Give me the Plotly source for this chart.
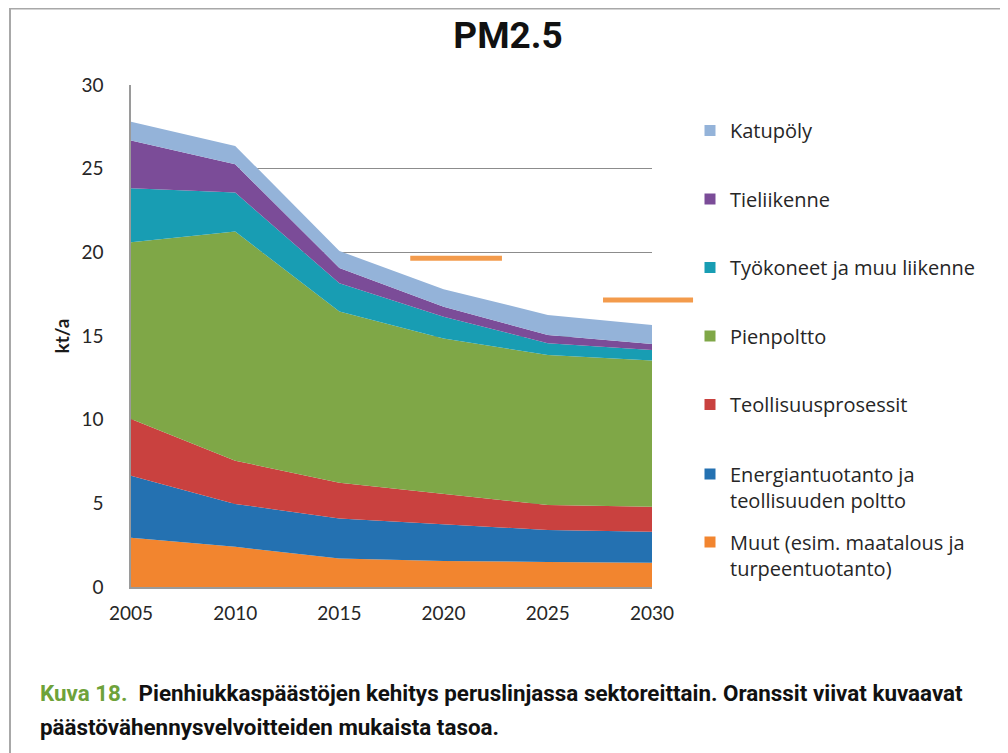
import plotly.graph_objects as go

years = [2005, 2010, 2015, 2020, 2025, 2030]

# layer thicknesses (kt/a), bottom to top
muut = [2.95, 2.4, 1.7, 1.55, 1.5, 1.45]
energia = [3.7, 2.56, 2.4, 2.22, 1.9, 1.85]
teollisuus = [3.39, 2.59, 2.13, 1.78, 1.5, 1.5]
pienpoltto = [10.56, 13.69, 10.23, 9.3, 8.97, 8.73]
tyokoneet = [3.23, 2.33, 1.69, 1.3, 0.7, 0.64]
tieliikenne = [2.85, 1.69, 0.92, 0.6, 0.49, 0.35]
katupoly = [1.12, 1.1, 1.01, 1.05, 1.2, 1.14]

# reduction-commitment levels (orange lines)
target1_x = [2018.4, 2022.8]
target1_y = [19.65, 19.65]
target2_x = [2027.65, 2031.97]
target2_y = [17.15, 17.15]

names = ["Muut (esim. maatalous ja<br>turpeentuotanto)",
         "Energiantuotanto ja<br>teollisuuden poltto",
         "Teollisuusprosessit", "Pienpoltto", "Työkoneet ja muu liikenne",
         "Tieliikenne", "Katupöly"]
values = [muut, energia, teollisuus, pienpoltto, tyokoneet, tieliikenne, katupoly]
colors = ["#F2852F", "#2471B1", "#C9413F", "#7FA747", "#189DB3", "#7B4C98", "#94B3D9"]
legends = ["legend2", "legend2", "legend", "legend", "legend", "legend", "legend"]

fig = go.Figure()
for name, vals, col in zip(names, values, colors):
    fig.add_trace(go.Scatter(
        x=years, y=vals, name=name, stackgroup="one", mode="lines",
        line=dict(width=0, color=col), fillcolor=col, showlegend=False,
        hoverinfo="skip"))

# legend entries (square swatches), top-to-bottom order
for i in reversed(range(len(names))):
    fig.add_trace(go.Scatter(
        x=[None], y=[None], name=names[i], mode="markers",
        marker=dict(symbol="square", size=11, color=colors[i]),
        legend=legends[i], legendgroup="g%d" % (10 - i), showlegend=True))

for tx, ty in [(target1_x, target1_y), (target2_x, target2_y)]:
    fig.add_trace(go.Scatter(
        x=tx, y=ty, mode="lines", line=dict(color="#F39B4C", width=5),
        xaxis="x2", yaxis="y2", showlegend=False, hoverinfo="skip"))

OFF = 8  # page body margin
FW, FH = 1008 - OFF, 753 - OFF
L, R, T, B = 131, 715, 85, 587   # plot area in screen pixels
W = R - L
H = B - T
def px(x):
    return (x - L) / W
def py(y):
    return (B - y) / H

tick_font = dict(family="Lato, sans-serif", size=19, color="#262626")
leg_font = dict(family="Open Sans, sans-serif", size=20, color="#262626")
cond = "Roboto, Lato, sans-serif"

fig.update_layout(
    width=FW, height=FH,
    margin=dict(l=L - OFF, r=FW - (R - OFF), t=T - OFF, b=FH - (B - OFF)),
    paper_bgcolor="white", plot_bgcolor="rgba(0,0,0,0)",
    title=dict(text="PM2.5", x=(508 - OFF) / FW, xref="container",
               xanchor="center", y=1 - (35 - OFF) / FH, yanchor="middle",
               font=dict(family=cond, size=37, color="#111111", weight="bold")),
    xaxis=dict(domain=[0, (652 - L) / W], range=[2005, 2030], tickvals=years,
               showgrid=False, zeroline=False, showline=True, linecolor="#9A9A9A",
               linewidth=1.5, ticks="", tickfont=tick_font, ticklabelstandoff=8),
    yaxis=dict(domain=[0, 1], range=[0, 30], dtick=5, showgrid=True,
               gridcolor="#8C8C8C", gridwidth=1, zeroline=False, showline=True,
               linecolor="#9A9A9A", linewidth=1.5, ticks="", tickfont=tick_font,
               ticklabelstandoff=22,
               title=dict(text="<b>kt/a</b>", standoff=7,
                          font=dict(family="Lato, sans-serif", size=19, color="#1a1a1a"))),
    xaxis2=dict(domain=[0, 1], range=[2005, 2005 + 25 * W / (652 - L)], anchor="y2",
                visible=False),
    yaxis2=dict(domain=[0, 1], range=[0, 30], anchor="x2", visible=False),
    legend=dict(x=px(690), y=py(111), xanchor="left", yanchor="top",
                tracegroupgap=39.5, font=leg_font, traceorder="grouped",
                bgcolor="rgba(0,0,0,0)", valign="top"),
    legend2=dict(x=px(690), y=py(454.5), xanchor="left", yanchor="top",
                 tracegroupgap=13, font=leg_font, traceorder="grouped",
                 bgcolor="rgba(0,0,0,0)", valign="top"),
    showlegend=True,
)

# frame around the figure
fig.add_shape(type="line", xref="paper", yref="paper", x0=px(10), x1=px(1010),
              y0=py(8.5), y1=py(8.5), line=dict(color="#A8A8A8", width=2))
fig.add_shape(type="line", xref="paper", yref="paper", x0=px(10), x1=px(10),
              y0=py(8), y1=py(760), line=dict(color="#A8A8A8", width=2))

# caption
cap_font = dict(family=cond, size=22.4, color="#111111", weight="bold")
fig.add_annotation(xref="paper", yref="paper", x=px(38), y=py(693), xanchor="left",
                   yanchor="middle", showarrow=False, align="left",
                   text="<span style='color:#6EA23A'>Kuva 18.</span>  Pienhiukkaspäästöjen kehitys peruslinjassa sektoreittain. Oranssit viivat kuvaavat",
                   font=cap_font)
fig.add_annotation(xref="paper", yref="paper", x=px(38), y=py(727), xanchor="left",
                   yanchor="middle", showarrow=False, align="left",
                   text="päästövähennysvelvoitteiden mukaista tasoa.",
                   font=cap_font)

fig.write_html("out.html")
